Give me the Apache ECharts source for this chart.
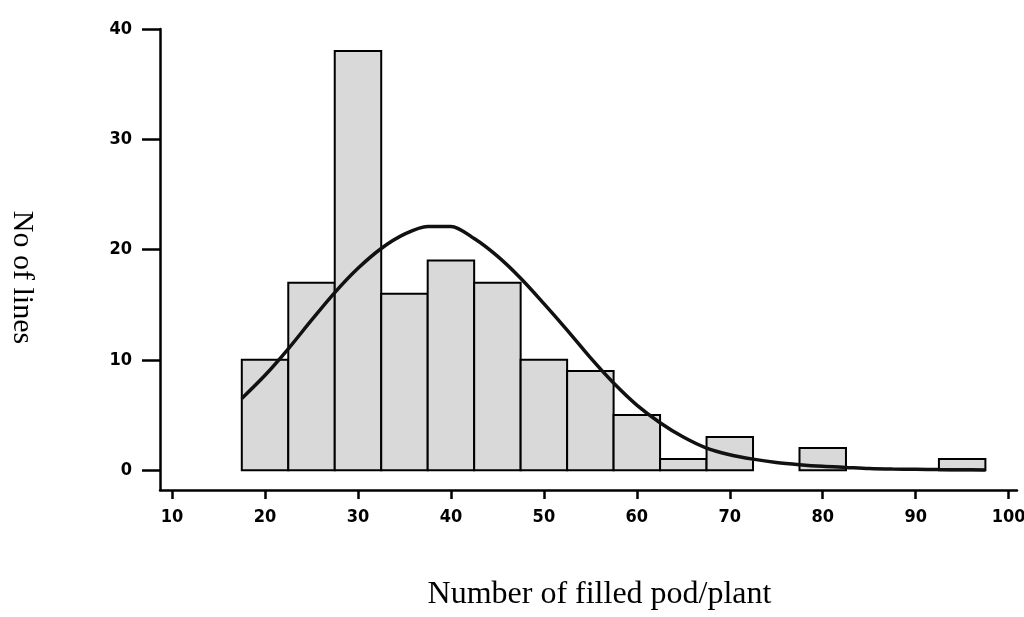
<!DOCTYPE html>
<html>
<head>
<meta charset="utf-8">
<script src="https://cdn.jsdelivr.net/npm/echarts@6/dist/echarts.min.js"></script>
<style>
  html, body { margin: 0; padding: 0; background: #fff; }
  #chart { width: 1024px; height: 617px; }
</style>
</head>
<body>
<div id="chart"></div>
<script>
// histogram bins (lower edge) and counts
const binStart = [17.5, 22.5, 27.5, 32.5, 37.5, 42.5, 47.5, 52.5, 57.5, 62.5, 67.5, 72.5, 77.5, 82.5, 87.5, 92.5]
const binWidth = 5
const counts = [10, 17, 38, 16, 19, 17, 10, 9, 5, 1, 3, 0, 2, 0, 0, 1]

// fitted curve
const curveX = [17.5, 20, 22.5, 25, 27.5, 30, 32.5, 35, 37.5, 40, 42.5, 45, 47.5, 50, 52.5, 55, 57.5, 60, 62.5, 65, 67.5, 70, 72.5, 75, 77.5, 80, 82.5, 85, 87.5, 90, 92.5, 95, 97.5]
const curveY = [6.5, 8.6, 11, 13.6, 16.1, 18.3, 20.1, 21.4, 22.1, 22.1, 21.0, 19.4, 17.4, 15.1, 12.7, 10.2, 7.9, 5.9, 4.3, 3.0, 2.0, 1.4, 1.0, 0.7, 0.5, 0.35, 0.25, 0.15, 0.1, 0.08, 0.05, 0.03, 0.02]

// tick labels
const xTicks = [10, 20, 30, 40, 50, 60, 70, 80, 90, 100]
const yTicks = [0, 10, 20, 30, 40]

const tickFont = '"Liberation Sans Narrow", "DejaVu Sans Condensed", "Liberation Sans", sans-serif'

const chart = echarts.init(document.getElementById('chart'))

chart.setOption({
    animation: false,
    backgroundColor: '#fff',
    grid: {
        left: 160,
        right: 7,
        top: 29,
        bottom: 127,
        outerBoundsMode: 'none',
        containLabel: false
    },
    xAxis: {
        type: 'value',
        min: 8.7,
        max: 100.9,
        name: 'Number of filled pod/plant',
        nameLocation: 'middle',
        nameGap: 89,
        nameTextStyle: {
            fontFamily: 'Liberation Serif',
            fontSize: 32,
            color: '#000',
            padding: [0, 0, 0, 22]
        },
        splitLine: { show: false },
        axisLine: {
            onZero: false,
            lineStyle: { color: '#000', width: 2.5 }
        },
        axisTick: {
            customValues: xTicks,
            length: 9,
            lineStyle: { color: '#000', width: 2.5 }
        },
        axisLabel: {
            customValues: xTicks,
            margin: 18,
            color: '#000',
            fontFamily: tickFont,
            fontWeight: 'bold',
            fontSize: 18
        }
    },
    yAxis: {
        type: 'value',
        min: -1.8,
        max: 40,
        name: 'No of lines',
        nameLocation: 'middle',
        nameRotate: -90,
        nameGap: 123,
        nameTextStyle: {
            fontFamily: 'Liberation Serif',
            fontSize: 30,
            color: '#000',
            padding: [0, 0, 0, 36]
        },
        splitLine: { show: false },
        axisLine: {
            onZero: false,
            lineStyle: { color: '#000', width: 2.5 }
        },
        axisTick: {
            customValues: yTicks,
            length: 18,
            lineStyle: { color: '#000', width: 2.5 }
        },
        axisLabel: {
            customValues: yTicks,
            margin: 28,
            color: '#000',
            fontFamily: tickFont,
            fontWeight: 'bold',
            fontSize: 18
        }
    },
    series: [
        {
            type: 'custom',
            encode: { x: [0, 1], y: 2 },
            data: binStart.map((s, i) => [s, s + binWidth, counts[i]]),
            renderItem: function (params, api) {
                const v = api.value(2)
                if (!v) return
                const p0 = api.coord([api.value(0), v])
                const p1 = api.coord([api.value(1), 0])
                return {
                    type: 'rect',
                    shape: { x: p0[0], y: p0[1], width: p1[0] - p0[0], height: p1[1] - p0[1] },
                    style: { fill: '#d9d9d9', stroke: '#000', lineWidth: 2 }
                }
            },
            z: 2
        },
        {
            type: 'line',
            smooth: 0.3,
            symbol: 'none',
            lineStyle: { color: '#111', width: 3.5 },
            data: curveX.map((x, i) => [x, curveY[i]]),
            z: 3
        }
    ]
})
</script>
</body>
</html>
